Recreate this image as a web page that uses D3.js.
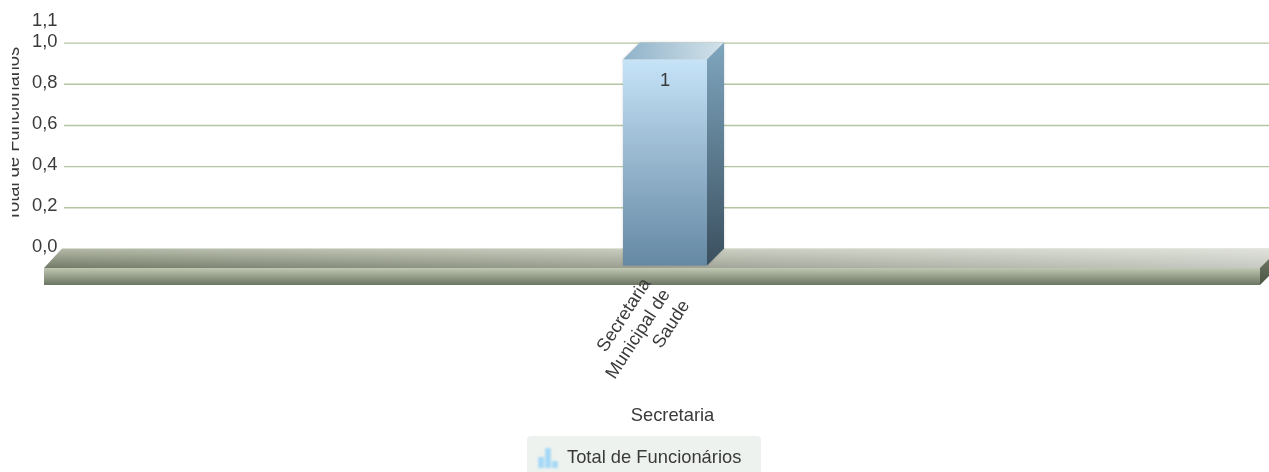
<!DOCTYPE html>
<html><head><meta charset="utf-8">
<script src="https://cdn.jsdelivr.net/npm/d3@7/dist/d3.min.js"></script>
<style>
html,body{margin:0;padding:0;background:#fff;overflow:hidden}
svg{display:block;filter:blur(0.55px)}
text{font-family:"Liberation Sans",Arial,sans-serif;font-size:12px;fill:#3a3a3a}
</style></head><body>
<svg id="c" width="1269" height="472"></svg>
<script>
const categories = ["Secretaria Municipal de Saude"];
const categoryLines = [["Secretaria","Municipal de","Saude"]];
const totalFuncionarios = [1];
const yTicks = [0,0.2,0.4,0.6,0.8,1.0,1.1];
const gridTicks = [0.2,0.4,0.6,0.8,1.0];
const yTitle = "Total de Funcionários";
const xTitle = "Secretaria";
const seriesName = "Total de Funcionários";
const legendIcon = [0.55,1,0.35];

const SX=1.53, SY=1.48, DX=17, DY=17;
const svg=d3.select("#c");
const defs=svg.append("defs");
function grad(id,c1,c2,horizontal){
  const g=defs.append("linearGradient").attr("id",id).attr("x1",0).attr("y1",0)
    .attr("x2",horizontal?1:0).attr("y2",horizontal?0:1);
  g.append("stop").attr("offset",0).attr("stop-color",c1);
  g.append("stop").attr("offset",1).attr("stop-color",c2);
}
grad("barFront","#c6e3f8","#6588a3");
grad("barTop","#8fb2c9","#d3e2ea",true);
grad("barSide","#7fa6bf","#3a4f5e");
grad("floorTopV","#b3b9a6","#737a67");
grad("floorTopH","rgba(255,255,255,0)","rgba(255,255,255,0.6)",true);
grad("floorFront","#c0c8b2","#6a7562");
grad("floorSide","#6b7560","#4a5445");
const sh=defs.append("filter").attr("id","soft").attr("x","-10%").attr("y","-10%").attr("width","120%").attr("height","120%");
sh.append("feGaussianBlur").attr("stdDeviation",1.5);
const ib=defs.append("filter").attr("id","iconBlur");
ib.append("feGaussianBlur").attr("stdDeviation",0.8);
defs.append("clipPath").attr("id","titleClip").append("rect").attr("x",12).attr("y",0).attr("width",20).attr("height",472);

const y=d3.scaleLinear().domain([0,1.1]).range([248.5,22]);
const x=d3.scaleBand().domain(categories).range([44,1260]).paddingInner(0).paddingOuter(0);
const barW=84;
const floorL=x.range()[0], floorR=x.range()[1], floorFrontTop=y(0)+19.5, floorFrontH=17;

// gridlines
svg.append("g")
  .call(d3.axisLeft(y).tickValues(gridTicks).tickSize(0).tickFormat(""))
  .call(g=>g.select(".domain").remove())
  .call(g=>g.selectAll(".tick line").attr("x1",64).attr("x2",1269).attr("stroke","#b3c6a2").attr("stroke-width",1.4));

// tick labels
const fmt=d=>d3.format(".1f")(d).replace(".",",");
svg.append("g").selectAll("text").data(yTicks).join("text")
  .attr("text-anchor","end")
  .attr("transform",d=>`translate(57.5,${y(d)+5-(d==0?2:1)}) scale(${SX},${SY})`)
  .text(fmt);

// y title (clipped at the left)
svg.append("g").attr("clip-path","url(#titleClip)").append("text")
  .attr("text-anchor","middle")
  .attr("transform",`translate(19,134) scale(${SX},1.53) rotate(-90)`)
  .text(yTitle);

// floor
const fp=a=>a.map(p=>p.join(",")).join(" ");
const floorTopPts=[[floorL,floorFrontTop],[floorL+DX+1,y(0)],[1269,y(0)],[1269,floorFrontTop-9],[floorR,floorFrontTop]];
svg.append("polygon").attr("points",fp(floorTopPts)).attr("fill","url(#floorTopV)");
svg.append("polygon").attr("points",fp(floorTopPts)).attr("fill","url(#floorTopH)");
svg.append("rect").attr("x",floorL).attr("y",floorFrontTop).attr("width",floorR-floorL).attr("height",floorFrontH).attr("fill","url(#floorFront)");
svg.append("polygon").attr("points",fp([[floorR,floorFrontTop],[1269,floorFrontTop-9],[1269,floorFrontTop+floorFrontH-9],[floorR,floorFrontTop+floorFrontH]])).attr("fill","url(#floorSide)");

// bar
const bars=svg.append("g").selectAll("g").data(categories.map((c,i)=>({c,v:totalFuncionarios[i]}))).join("g");
bars.each(function(d){
  const g=d3.select(this);
  const L=x(d.c)+x.bandwidth()/2-barW/2+13, R=L+barW;
  const T=y(d.v)+DY, B=y(0)+DY;
  g.append("polygon").attr("points",fp([[L,T],[L+DX,T-DY],[R+DX,T-DY],[R+DX,B-DY],[R,B],[L,B]])).attr("fill","#000").attr("opacity",0.16).attr("filter","url(#soft)");
  g.append("polygon").attr("points",fp([[L,T],[L+DX,T-DY],[R+DX,T-DY],[R,T]])).attr("fill","url(#barTop)");
  g.append("polygon").attr("points",fp([[R,T],[R+DX,T-DY],[R+DX,B-DY],[R,B]])).attr("fill","url(#barSide)");
  g.append("rect").attr("x",L).attr("y",T).attr("width",barW).attr("height",B-T).attr("fill","url(#barFront)");
  g.append("text").attr("text-anchor","middle")
    .attr("transform",`translate(${(L+R)/2},${T+26}) scale(${SX},${SY})`).text(d3.format("d")(d.v));
});

// category label
const lab=svg.append("g").attr("transform",`translate(${x(categories[0])+x.bandwidth()/2-6},280) scale(1.52) rotate(-57)`);
categoryLines[0].forEach((t,i)=>{
  lab.append("text").attr("text-anchor","end").attr("x",i).attr("y",i*14.6+4).text(t);
});

// x title
svg.append("text").attr("text-anchor","middle").attr("transform",`translate(672.5,421) scale(${SX},${SY})`).text(xTitle);

// legend
svg.append("rect").attr("x",527).attr("y",436).attr("width",234).attr("height",40).attr("rx",4).attr("fill","#eef2ee");
const ix=d3.scaleBand().domain(d3.range(legendIcon.length)).range([537,559]).padding(0.18);
const iy=d3.scaleLinear().domain([0,1]).range([468,448]);
svg.append("g").attr("filter","url(#iconBlur)").selectAll("rect").data(legendIcon).join("rect")
  .attr("x",(d,i)=>ix(i)).attr("width",ix.bandwidth()).attr("y",d=>iy(d)).attr("height",d=>468-iy(d)).attr("fill","#a4d8f7");
svg.append("text").attr("transform",`translate(567,462.5) scale(${SX},${SY})`).text(seriesName);
</script></body></html>
